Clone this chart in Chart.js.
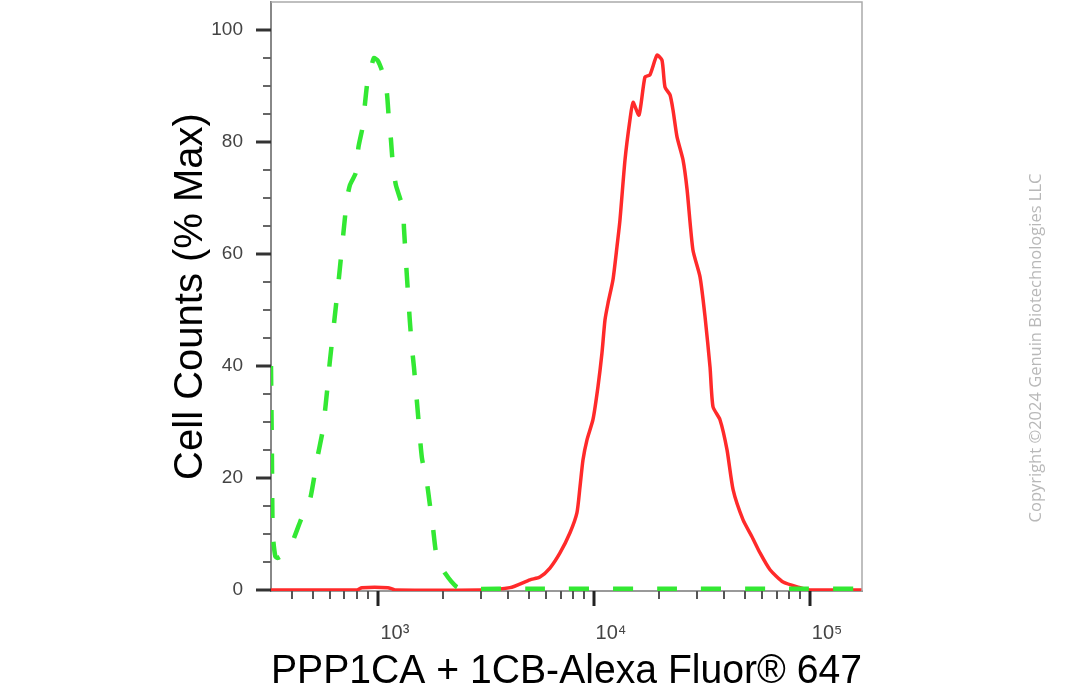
<!DOCTYPE html>
<html lang="en">
<head>
  <meta charset="UTF-8" />
  <title>PPP1CA + 1CB flow histogram</title>
  <script src="https://cdn.jsdelivr.net/npm/chart.js"></script>
  <style>
    html, body {
      margin: 0;
      padding: 0;
      background-color: #fff;
    }

    #wrap {
      width: 1090px;
      height: 700px;
      position: relative;
    }
  </style>
</head>
<body>
  <div id="wrap">
    <canvas id="hist" width="1090" height="700"></canvas>
  </div>

  <script>
    // control (dashed green)
    const controlX = [320, 323, 326, 335, 344, 370, 400, 440, 484, 527, 556, 587, 598, 653, 718, 742, 790, 812, 853, 870, 899, 940, 958, 1000, 1054, 1100, 1124, 1149, 1173, 1211, 1305, 1320, 1362, 1406, 1436, 1468, 1531, 1598, 1686, 1740, 1798, 1876, 2043, 2321, 2600, 5000, 20000, 80000, 174000];
    const controlY = [40, 25, 10, 6, 5.7, 6.5, 8.4, 12.5, 16, 24, 28.6, 37, 40.5, 54, 69.6, 72.3, 74.5, 79, 83, 86.6, 91.4, 94, 95, 94.5, 92.3, 88.8, 84, 80.4, 75.9, 72.3, 68.2, 64.6, 56, 47.9, 43.4, 39.8, 31.6, 23.6, 19.1, 15.2, 11.1, 5.7, 3.0, 0.5, 0.2, 0.2, 0.2, 0.2, 0.2];

    // PPP1CA + 1CB stained (solid red)
    const stainedX = [320, 800, 843, 1112, 1200, 2965, 4084, 5056, 5623, 6255, 6961, 7745, 8343, 8616, 8894, 9283, 9891, 10436, 10889, 11245, 11614, 12246, 12779, 13188, 13920, 14680, 15160, 16160, 17220, 18160, 19580, 20650, 21320, 22490, 23220, 24230, 25830, 26970, 28710, 30960, 32660, 34450, 35560, 38300, 41290, 44040, 48980, 53860, 58690, 65290, 75020, 89920, 100000, 174000];
    const stainedY = [0, 0, 0.4, 0.4, 0, 0, 0.4, 1.8, 2.3, 3.9, 6.6, 10.2, 13.8, 18.4, 23.2, 26.8, 30.4, 36.3, 42.3, 48.2, 51.2, 55.4, 61.3, 66, 76.8, 84, 87.1, 84.8, 91.6, 92, 95.5, 94.6, 89.8, 88.4, 85.7, 80.9, 76.8, 71.5, 60.7, 55.9, 48.8, 39.8, 32.7, 30.4, 25, 17.9, 12.5, 9.5, 6.6, 3.6, 1.4, 0.4, 0, 0];

    const xTickValues = [400, 500, 600, 700, 800, 900, 1000, 2000, 3000, 4000, 5000, 6000, 7000, 8000, 9000, 10000, 20000, 30000, 40000, 50000, 60000, 70000, 80000, 90000, 100000];
    const xTickLabels = { 1000: '10³', 10000: '10⁴', 100000: '10⁵' };
    const yTickValues = [0, 5, 10, 15, 20, 25, 30, 35, 40, 45, 50, 55, 60, 65, 70, 75, 80, 85, 90, 95, 100];
    const yLabelValues = [0, 20, 40, 60, 80, 100];

    const xTitle = 'PPP1CA + 1CB-Alexa Fluor® 647';
    const yTitle = 'Cell Counts (% Max)';
    const copyright = 'Copyright ©2024 Genuin Biotechnologies LLC';

    const FONT = "'Liberation Sans', Arial, sans-serif";

    function toPoints(xs, ys) {
      return xs.map((x, i) => ({ x: x, y: ys[i] }));
    }

    // no extra room for overhanging labels, the plot box is fixed
    function noPadding(scale) {
      scale.paddingTop = 0;
      scale.paddingBottom = 0;
      scale.paddingLeft = 0;
      scale.paddingRight = 0;
    }

    // frame, tick marks and the side note
    const framePlugin = {
      id: 'frame',
      afterDraw(chart) {
        const c = chart.ctx;
        const area = chart.chartArea;
        const xs = chart.scales.x;
        const ys = chart.scales.y;
        c.save();

        c.strokeStyle = '#aaa';
        c.lineWidth = 1.5;
        c.beginPath();
        c.moveTo(area.left, area.top);
        c.lineTo(area.right, area.top);
        c.lineTo(area.right, area.bottom);
        c.stroke();

        yTickValues.forEach(v => {
          const py = Math.round(ys.getPixelForValue(v));
          const major = v % 20 === 0;
          c.strokeStyle = major ? '#333' : '#666';
          c.lineWidth = major ? 3 : 2;
          c.beginPath();
          c.moveTo(area.left - (major ? 15 : 8), py);
          c.lineTo(area.left, py);
          c.stroke();
        });

        xTickValues.forEach(v => {
          const px = Math.round(xs.getPixelForValue(v));
          const major = xTickLabels[v] !== undefined;
          c.strokeStyle = major ? '#222' : '#555';
          c.lineWidth = major ? 3 : 2;
          c.beginPath();
          c.moveTo(px, area.bottom);
          c.lineTo(px, area.bottom + (major ? 15 : 8));
          c.stroke();
        });

        c.translate(1036, 348);
        c.rotate(-Math.PI / 2);
        c.fillStyle = '#b8b8b8';
        c.font = "16.5px 'Open Sans', 'Noto Sans', sans-serif";
        c.textAlign = 'center';
        c.textBaseline = 'middle';
        c.fillText(copyright, 0, 0);
        c.restore();
      }
    };

    const ctx = document.getElementById('hist').getContext('2d');

    const chart = new Chart(ctx, {
      type: 'line',
      data: {
        datasets: [
          {
            label: 'Control',
            data: toPoints(controlX, controlY),
            borderColor: '#33e833',
            borderWidth: 4.5,
            borderDash: [20, 24],
            pointRadius: 0,
            tension: 0.2,
            fill: false
          },
          {
            label: 'PPP1CA + 1CB',
            data: toPoints(stainedX, stainedY),
            borderColor: '#ff2a2a',
            borderWidth: 3.5,
            pointRadius: 0,
            tension: 0.2,
            fill: false
          }
        ]
      },
      options: {
        responsive: false,
        animation: false,
        layout: {
          padding: { left: 0, right: 228, top: 2, bottom: 0 }
        },
        plugins: {
          legend: { display: false },
          tooltip: { enabled: false }
        },
        scales: {
          x: {
            type: 'logarithmic',
            min: 320,
            max: 174000,
            afterFit(scale) { scale.height = 109; noPadding(scale); },
            afterBuildTicks(scale) {
              scale.ticks = xTickValues.map(v => ({ value: v }));
            },
            grid: { display: false, drawTicks: false },
            border: { display: true, color: '#999', width: 2 },
            ticks: {
              autoSkip: false,
              maxRotation: 0,
              padding: 30,
              labelOffset: 17,
              color: '#444',
              font: { family: FONT, size: 20 },
              callback: v => xTickLabels[v] || ''
            },
            title: {
              display: true,
              text: xTitle,
              color: '#000',
              font: { family: FONT, size: 41 },
              padding: { top: 0, bottom: 4 }
            }
          },
          y: {
            min: -0.2,
            max: 105,
            afterFit(scale) { scale.width = 271; noPadding(scale); },
            afterBuildTicks(scale) {
              scale.ticks = yLabelValues.map(v => ({ value: v }));
            },
            grid: { display: false, drawTicks: false },
            border: { display: true, color: '#888', width: 2 },
            ticks: {
              padding: 28,
              color: '#444',
              font: { family: FONT, size: 19 }
            },
            title: {
              display: true,
              text: yTitle,
              color: '#000',
              font: { family: FONT, size: 40 },
              padding: { top: 167, bottom: 0 }
            }
          }
        }
      },
      plugins: [framePlugin]
    });
  </script>
</body>
</html>
